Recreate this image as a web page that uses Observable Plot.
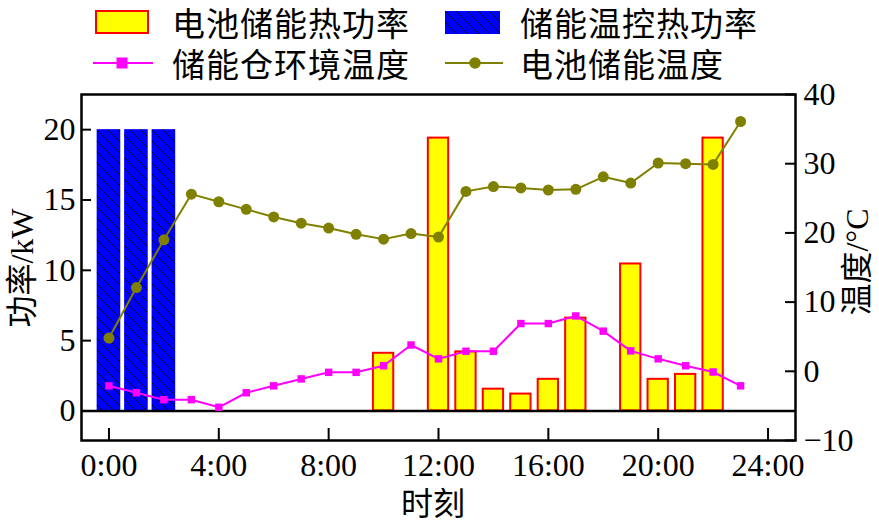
<!DOCTYPE html>
<html><head><meta charset="utf-8">
<script src="https://cdn.jsdelivr.net/npm/d3@7"></script>
<script src="https://cdn.jsdelivr.net/npm/@observablehq/plot@0.6"></script>
<style>
body{margin:0;background:#fff;}
#wrap{position:relative;width:879px;height:521px;overflow:hidden;}
.lg{position:absolute;font-family:"Noto Sans CJK SC";font-size:33px;letter-spacing:1px;line-height:30px;height:30px;white-space:nowrap;color:#000;}
.sw{position:absolute;}
.lab{position:absolute;font-family:"Liberation Serif","Noto Sans CJK SC";font-size:32px;line-height:34px;white-space:nowrap;color:#000;}
</style>
</head><body>
<div id="wrap"></div>
<script>
// ---- data ----
const hours = [0,1,2,3,4,5,6,7,8,9,10,11,12,13,14,15,16,17,18,19,20,21,22,23];
const batteryHeatHours = [10,12,13,14,15,16,17,19,20,21,22];
const batteryHeatPower = [4.1,19.4,4.2,1.55,1.2,2.25,6.6,10.45,2.25,2.6,19.4];
const thermalCtrlHours = [0,1,2];
const thermalCtrlPower = [20,20,20];
const ambientTemp = [-2.1,-3.1,-4.1,-4.1,-5.2,-3.1,-2.1,-1.1,-0.15,-0.15,0.8,3.8,1.8,2.9,2.9,6.9,6.9,8.0,5.8,2.95,1.8,0.8,-0.1,-2.1];
const batteryTemp = [4.8,12.1,19.0,25.6,24.5,23.4,22.3,21.4,20.7,19.8,19.1,19.9,19.4,26.0,26.7,26.5,26.2,26.3,28.1,27.2,30.1,30.0,29.9,36.1];
const xTicks = [0,4,8,12,16,20,24];
const xTickLabels = ["0:00","4:00","8:00","12:00","16:00","20:00","24:00"];
const powerTicks = [0,5,10,15,20];
const tempTicks = [-10,0,10,20,30,40];
const legendLabels = ["电池储能热功率","储能温控热功率","储能仓环境温度","电池储能温度"];

// ---- scales ----
const pMin = -2.1, pMax = 22.5, tMin = -10, tMax = 40;
const toP = t => pMin + (t - tMin) / (tMax - tMin) * (pMax - pMin);
const fromP = p => tMin + (p - pMin) / (pMax - pMin) * (tMax - tMin);
const W = 879, H = 521, mL = 81, mR = 84, mT = 94, mB = 81;
const fW = W - mL - mR, fH = H - mT - mB;

const yellowBars = batteryHeatHours.map((h,i)=>({x1:h-0.37,x2:h+0.37,v:batteryHeatPower[i]}));
const blueBars = thermalCtrlHours.map((h,i)=>({x1:h-0.43,x2:h+0.43,v:thermalCtrlPower[i]}));
const amb = hours.map((h,i)=>({h, p: toP(ambientTemp[i])}));
const bat = hours.map((h,i)=>({h, p: toP(batteryTemp[i])}));
const tempTickP = tempTicks.map(toP);
const fmtT = p => { const v = Math.round(fromP(p)); return v < 0 ? "\u2212" + (-v) : String(v); };

const chart = Plot.plot({
  width: W, height: H,
  marginLeft: mL, marginRight: mR, marginTop: mT, marginBottom: mB,
  x: {domain: [-1, 25]},
  y: {domain: [pMin, pMax]},
  style: {fontFamily: "Liberation Serif", fontSize: "32px", background: "white", overflow: "visible"},
  marks: [
    Plot.rectY(blueBars, {x1:"x1", x2:"x2", y1:0, y2:"v", fill:"url(#hatch)"}),
    Plot.rectY(yellowBars, {x1:"x1", x2:"x2", y1:0, y2:"v", fill:"#ffff00", stroke:"#ff0000", strokeWidth:2}),
    Plot.ruleY([0], {stroke:"#000", strokeWidth:2.5}),
    Plot.line(amb, {x:"h", y:"p", stroke:"#ff00ff", strokeWidth:2}),
    Plot.dot(amb, {x:"h", y:"p", symbol:"square", r:4.2, fill:"#ff00ff"}),
    Plot.line(bat, {x:"h", y:"p", stroke:"#808000", strokeWidth:2}),
    Plot.dot(bat, {x:"h", y:"p", r:5.5, fill:"#808000"}),
    Plot.frame({stroke:"#000", strokeWidth:2.5}),
    Plot.tickX(xTicks, {x:d=>d, insetTop: fH - 12, stroke:"#000", strokeWidth:2}),
    Plot.tickY(powerTicks, {y:d=>d, insetRight: fW - 10, stroke:"#000", strokeWidth:2}),
    Plot.tickY(tempTickP, {y:d=>d, insetLeft: fW - 10, stroke:"#000", strokeWidth:2}),
    Plot.axisX(xTicks, {anchor:"bottom", tickSize:0, tickPadding:13, fontSize:32, tickFormat:(d)=>xTickLabels[xTicks.indexOf(d)], label:null}),
    Plot.axisY(powerTicks, {anchor:"left", tickSize:0, tickPadding:6, fontSize:32, label:null}),
    Plot.axisY(tempTickP, {anchor:"right", tickSize:0, tickPadding:8, fontSize:32, tickFormat: fmtT, label:null})
  ]
});
d3.select(chart).insert("defs", ":first-child").html(
  '<pattern id="hatch" patternUnits="userSpaceOnUse" width="11" height="11">' +
  '<rect width="11" height="11" fill="#0000ff"/>' +
  '<path d="M0,0L11,11M-1,10L1,12M10,-1L12,1" stroke="#000" stroke-width="0.8"/></pattern>');

const wrap = document.getElementById("wrap");
wrap.appendChild(chart);
chart.style.position = "absolute"; chart.style.left = "0"; chart.style.top = "0";

function add(html){ wrap.insertAdjacentHTML("beforeend", html); }
// legend
add(`<div class="sw" style="left:95px;top:10px;width:54px;height:24px;box-sizing:border-box;border:2px solid #ff0000;background:#ffff00"></div>`);
add(`<div class="lg" style="left:172px;top:7px">${legendLabels[0]}</div>`);
add(`<svg class="sw" style="left:445px;top:11px" width="55" height="23"><defs><pattern id="hatch2" patternUnits="userSpaceOnUse" width="11" height="11"><rect width="11" height="11" fill="#0000ff"/><path d="M0,0L11,11M-1,10L1,12M10,-1L12,1" stroke="#000" stroke-width="0.8"/></pattern></defs><rect width="55" height="23" fill="url(#hatch2)"/></svg>`);
add(`<div class="lg" style="left:520px;top:7px">${legendLabels[1]}</div>`);
add(`<svg class="sw" style="left:93px;top:56px" width="60" height="14"><line x1="0" x2="60" y1="7" y2="7" stroke="#ff00ff" stroke-width="2"/><rect x="23.5" y="1.5" width="11" height="11" fill="#ff00ff"/></svg>`);
add(`<div class="lg" style="left:172px;top:48px">${legendLabels[2]}</div>`);
add(`<svg class="sw" style="left:445px;top:55px" width="58" height="16"><line x1="0" x2="58" y1="8" y2="8" stroke="#808000" stroke-width="2"/><circle cx="30" cy="8" r="5.8" fill="#808000"/></svg>`);
add(`<div class="lg" style="left:520px;top:48px">${legendLabels[3]}</div>`);
// axis titles
add(`<div class="lab" style="left:22px;top:268px;transform:translate(-50%,-50%) rotate(-90deg)">功率/kW</div>`);
add(`<div class="lab" style="left:857px;top:262px;transform:translate(-50%,-50%) rotate(-90deg)">温度/°C</div>`);
add(`<div class="lab" style="left:433px;top:504px;transform:translate(-50%,-50%)">时刻</div>`);
</script>
</body></html>
